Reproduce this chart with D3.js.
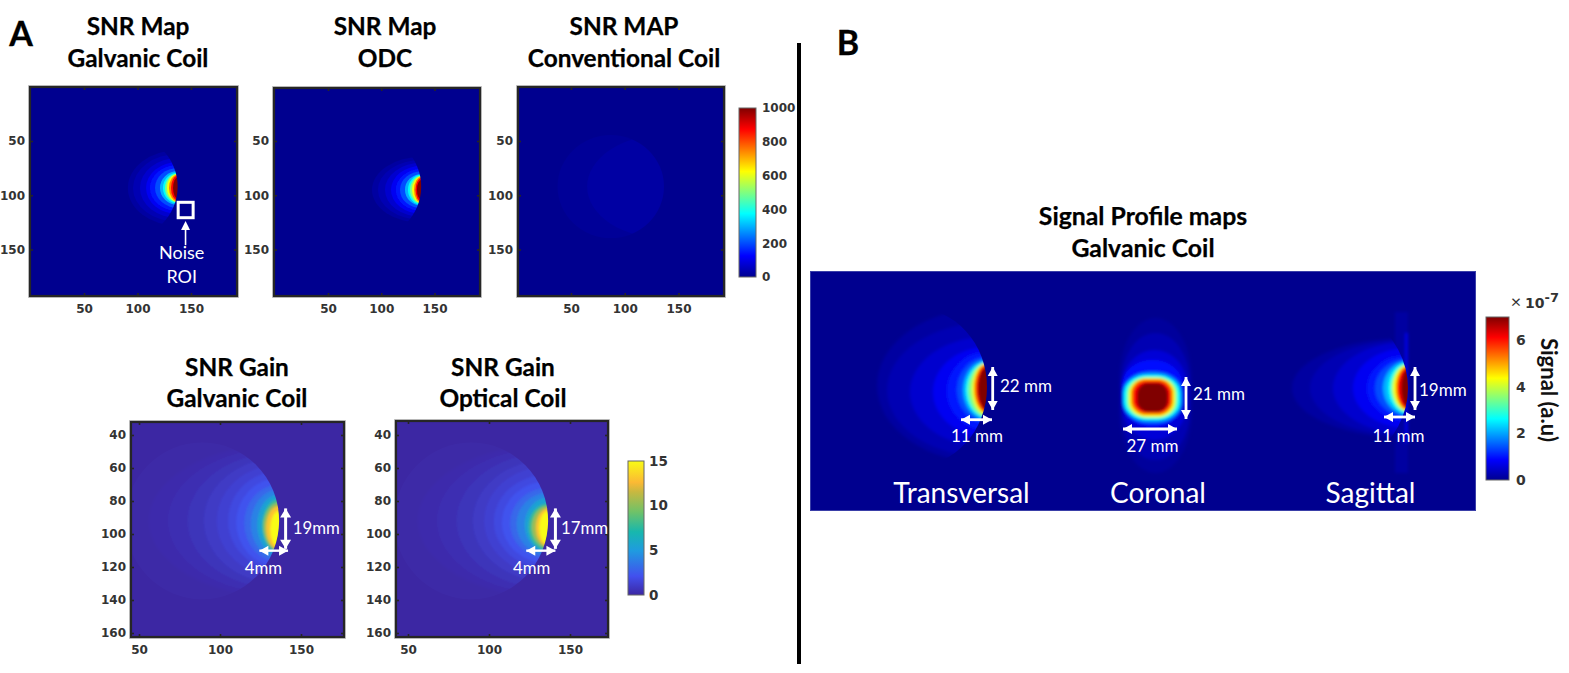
<!DOCTYPE html>
<html><head><meta charset="utf-8">
<script src="https://d3js.org/d3.v7.min.js"></script>
<style>
html,body{margin:0;padding:0;background:#fff}
svg{display:block}
text{font-family:Lato,"Open Sans",sans-serif}
.tick text{font-family:"DejaVu Sans",sans-serif;font-weight:700;fill:#333}
</style></head><body>
<svg id="c" width="1569" height="673"></svg>
<script>
/* ---------- values ---------- */
const panelLetters = ["A","B"];
const snrTicks = [50,100,150];
const gainXTicks = [50,100,150];
const gainYTicks = [40,60,80,100,120,140,160];
const snrBarTicks = [0,200,400,600,800,1000];
const gainBarTicks = [0,5,10,15];
const signalBarTicks = [0,2,4,6];

/* colormap anchor stops */
const jetStops = [0,0.125,0.375,0.625,0.875,1];
const jetColors = ["#00008f","#0000ff","#00ffff","#ffff00","#ff0000","#800000"];
const gainStops = [0,0.14,0.33,0.47,0.62,0.77,0.84,1];
const gainColors = ["#3c27a3","#4250ee","#1f9be0","#17b7ae","#6fc268","#c8b840","#fbb934","#f9fb15"];

/* iso-level extents of the hot spot: level, leftmost x, top y, bottom y */
const snrLevels = [0.02,0.04,0.07,0.11,0.15,0.2,0.3,0.38,0.5,0.62,0.75,0.88,1];
const galvanicLeft = [91,95.8,102.3,108,111.7,116.4,121,123.8,125.7,127.6,129.4,131.3,133.2];
const galvanicTop = [58.3,62,65.7,69.3,72.1,74.9,77.6,79,79.9,80.4,80.9,81.8,83.2];
const galvanicBottom = [128.3,124.6,120.9,117.3,114.5,111.7,109,107.6,106.7,106.2,105.7,104.8,103.4];
const odcLeft = [91.3,96.9,103.5,109.1,113.8,117.6,122.3,125.1,127,128.9,130.8,132.2,133.5];
const odcTop = [64.6,67.4,70.1,72.9,75.6,78,80.3,81.2,82.1,82.6,83,84,85.8];
const odcBottom = [125.4,122.6,119.9,117.1,114.4,112,109.7,108.8,107.9,107.4,107,106,104.2];
const conventionalLevels = [0.01,0.022];
const conventionalLeft = [20,65];
const conventionalTop = [10,44];
const conventionalBottom = [174,140];

const gainLevels = [0.1,0.25,0.42,0.65,0.95,1.3,1.7,2.2,3,4,5.5,8,10.5,13,15];
const gainGalvLeft = [30,56,68,80,90,98,105,110,115,119,123,126,127,128.5,131];
const gainGalvTop = [20,46,48,51,54,58,62,66,70,73,76,79,81,83,86];
const gainGalvBottom = [164,138,136,133,130,126,122,120,117,115,113,111,110,109.5,108];
const gainOptLeft = [30,56,68,80,90,97,103,108,113,117,122,124.5,126.5,129,131];
const gainOptTop = [20,46,48,51,55,59,64,68,72,75,78,81.5,83,84.5,86];
const gainOptBottom = [164,138,136,133,129,125,121,118,115,113,111,110,108.5,107.5,106.5];

const profileLevels = [0.02,0.04,0.07,0.11,0.15,0.2,0.3,0.38,0.5,0.62,0.75,0.88,1];
const transLeft = [67,77,100,123,137,147,153,156,158,162,164,166,168];
const transTop = [37,52,66,76,81,86,89,91,92,92,93,94,96];
const transBottom = [192,186,176,166,159,152,149,147,146,144,142,141,139];
const sagLeft = [482,500,523,543,557,565,573,578,581,583,586,587,591];
const sagTop = [67,69,71,77,84,88,90,91.5,93,94,95,96,98];
const sagBottom = [167,165,163,157,150,146,144,142.5,141,140,139,138,136];
const sagStripLevels = [0.02,0.09];
const sagStripLeft = [585,595];
const sagStripRight = [598,598];
const sagStripTop = [41,62];
const sagStripBottom = [202,172];
const corLevels = [0.015,0.04,0.08,0.14,0.25,0.38,0.5,0.62,0.75,0.88,1];
const corLeft = [309,311,312,312,313,314,317,319,321,323,327];
const corRight = [382,380,377,373,372,370,367,365,363,361,358];
const corTop = [47,62,79,89,101,104,106,107,108,110,112];
const corBottom = [202,189,169,156,152,149,147,146,144,142,141];
const corRound = [0.5,0.5,0.5,0.48,0.44,0.42,0.4,0.38,0.36,0.36,0.36];

const titles = [
 ["SNR Map","Galvanic Coil"],["SNR Map","ODC"],["SNR MAP","Conventional Coil"],
 ["SNR Gain","Galvanic Coil"],["SNR Gain","Optical Coil"],["Signal Profile maps","Galvanic Coil"]];
const sliceNames = ["Transversal","Coronal","Sagittal"];

/* ---------- layout ---------- */
const svg = d3.select("#c");
const defs = svg.append("defs");
const jet = d3.scaleLinear().domain(jetStops).range(jetColors).clamp(true);
const parula = d3.scaleLinear().domain(gainStops).range(gainColors).clamp(true);

[["b1",0.7],["b2",1.2],["b3",1.4]].forEach(([id,s])=>{
  defs.append("filter").attr("id",id).attr("x","-30%").attr("y","-30%").attr("width","160%").attr("height","160%")
    .append("feGaussianBlur").attr("stdDeviation",s);
});

function gradient(id,stops,colors){
  const g = defs.append("linearGradient").attr("id",id).attr("x1",0).attr("y1",1).attr("x2",0).attr("y2",0);
  stops.forEach((s,i)=>g.append("stop").attr("offset",s).attr("stop-color",colors[i]));
}
gradient("gJet",jetStops,jetColors);
gradient("gPar",gainStops,gainColors);

const frames = [
 {x:[30,237],y:[87,296],xd:[50,150],xr:[84,191],yd:[50,150],yr:[141,249.5],bg:jet(0)},
 {x:[274,480],y:[88,296],xd:[50,150],xr:[328,434.5],yd:[50,150],yr:[141,249.5],bg:jet(0)},
 {x:[518,724],y:[87,296],xd:[50,150],xr:[571,678.5],yd:[50,150],yr:[141,249.5],bg:jet(0)},
 {x:[131,344],y:[422,637],xd:[50,150],xr:[139,301],yd:[40,160],yr:[435,633],bg:parula(0)},
 {x:[396,608],y:[421,637],xd:[50,150],xr:[408,570],yd:[40,160],yr:[435,633],bg:parula(0)}
];
frames.forEach((f,i)=>{
  f.sx = d3.scaleLinear().domain(f.xd).range(f.xr);
  f.sy = d3.scaleLinear().domain(f.yd).range(f.yr);
  defs.append("clipPath").attr("id","fr"+i).append("rect")
    .attr("x",f.x[0]).attr("y",f.y[0]).attr("width",f.x[1]-f.x[0]).attr("height",f.y[1]-f.y[0]);
  f.i=i;
});

function drawFrame(f){
  const g = svg.append("g").attr("clip-path",`url(#fr${f.i})`);
  g.append("rect").attr("x",f.x[0]).attr("y",f.y[0]).attr("width",f.x[1]-f.x[0]).attr("height",f.y[1]-f.y[0]).attr("fill",f.bg);
  return g;
}
function axes(f,xt,yt){
  const sx=f.sx.copy().domain([f.sx.invert(f.x[0]),f.sx.invert(f.x[1])]).range(f.x);
  const sy=f.sy.copy().domain([f.sy.invert(f.y[0]),f.sy.invert(f.y[1])]).range(f.y);
  const mk=(ax,tx,ty,lab)=>{
    const a=svg.append("g").attr("transform",`translate(${tx},${ty})`).call(ax);
    a.selectAll(".domain").remove();
    a.selectAll("line").attr("stroke","#262626").attr("stroke-width",1.6);
    a.selectAll("text").attr("font-size",12);
    if(!lab) a.selectAll("text").remove();
    return a;
  };
  mk(d3.axisBottom(sx).tickValues(xt).tickSize(-3).tickPadding(8),0,f.y[1],true);
  mk(d3.axisTop(sx).tickValues(xt).tickSize(-3),0,f.y[0],false);
  mk(d3.axisLeft(sy).tickValues(yt).tickSize(-3).tickPadding(5),f.x[0],0,true);
  mk(d3.axisRight(sy).tickValues(yt).tickSize(-3),f.x[1],0,false);
  svg.append("rect").attr("x",f.x[0]-1.5).attr("y",f.y[0]-1.5).attr("width",f.x[1]-f.x[0]+3).attr("height",f.y[1]-f.y[0]+3).attr("fill","none").attr("stroke","#c8c8c8").attr("stroke-width",1);
  svg.append("rect").attr("x",f.x[0]).attr("y",f.y[0]).attr("width",f.x[1]-f.x[0]).attr("height",f.y[1]-f.y[0]).attr("fill","none").attr("stroke","#262626").attr("stroke-width",2.2);
}

/* one iso-level ellipse stack clipped to the head outline */
function stack(parent,id,sx,sy,clip,color,levels,left,top,bottom,filt,edge){
  const cp=defs.append("clipPath").attr("id",id);
  cp.append("ellipse").attr("cx",sx(clip[0])).attr("cy",sy(clip[1]))
    .attr("rx",Math.abs(sx(clip[0]+clip[2])-sx(clip[0]))).attr("ry",Math.abs(sy(clip[1]+clip[3])-sy(clip[1])));
  const g=parent.append("g").attr("clip-path",`url(#${id})`).append("g").attr("filter",`url(#${filt})`);
  g.selectAll("ellipse").data(levels).join("ellipse")
    .attr("cx",sx(edge)).attr("cy",(d,i)=>(sy(top[i])+sy(bottom[i]))/2)
    .attr("rx",(d,i)=>sx(edge)-sx(left[i])).attr("ry",(d,i)=>(sy(bottom[i])-sy(top[i]))/2)
    .attr("fill",d=>color(d));
}

const f0=frames[0],f1=frames[1],f2=frames[2],f3=frames[3],f4=frames[4];
const g0=drawFrame(f0),g1=drawFrame(f1),g2=drawFrame(f2),g3=drawFrame(f3),g4=drawFrame(f4);
const headSNR=[89,92,48.5,48];
stack(g0,"c0",f0.sx,f0.sy,headSNR,jet,snrLevels,galvanicLeft,galvanicTop,galvanicBottom,"b1",138);
stack(g1,"c1",f1.sx,f1.sy,headSNR,jet,snrLevels,odcLeft,odcTop,odcBottom,"b1",138);
stack(g2,"c2",f2.sx,f2.sy,[87,92,49.5,47.5],jet,conventionalLevels,conventionalLeft,conventionalTop,conventionalBottom,"b1",138);
const gainNorm=v=>parula(v/15);
const headGain=[89,92,47.5,47.5];
stack(g3,"c3",f3.sx,f3.sy,headGain,gainNorm,gainLevels,gainGalvLeft,gainGalvTop,gainGalvBottom,"b2",136.5);
stack(g4,"c4",f4.sx,f4.sy,headGain,gainNorm,gainLevels,gainOptLeft,gainOptTop,gainOptBottom,"b2",136.5);
axes(f0,snrTicks,snrTicks);axes(f1,snrTicks,snrTicks);axes(f2,snrTicks,snrTicks);
axes(f3,gainXTicks,gainYTicks);axes(f4,gainXTicks,gainYTicks);

/* panel B map: scales in map units */
const xB=d3.scaleLinear().domain([0,666]).range([810,1476]);
const yB=d3.scaleLinear().domain([0,240]).range([271,511]);
const gB=svg.append("g");
gB.append("rect").attr("x",xB(0)).attr("y",yB(0)).attr("width",xB(666)-xB(0)).attr("height",yB(240)-yB(0)).attr("fill",jet(0));
gB.append("rect").attr("x",xB(0)+.5).attr("y",yB(0)+.5).attr("width",xB(666)-xB(0)-1).attr("height",yB(240)-yB(0)-1).attr("fill","none").attr("stroke","#3a3fa8").attr("stroke-width",1);
stack(gB,"c5",xB,yB,[105,116,72,79],jet,profileLevels,transLeft,transTop,transBottom,"b3",177);
gB.append("g").attr("filter","url(#b3)").selectAll("rect").data(sagStripLevels).join("rect")
  .attr("x",(d,i)=>xB(sagStripLeft[i])).attr("width",(d,i)=>xB(sagStripRight[i])-xB(sagStripLeft[i]))
  .attr("y",(d,i)=>yB(sagStripTop[i])).attr("height",(d,i)=>yB(sagStripBottom[i])-yB(sagStripTop[i]))
  .attr("fill",d=>jet(d));
stack(gB,"c6",xB,yB,[470,117,128,100],jet,profileLevels,sagLeft,sagTop,sagBottom,"b3",598);
const gC=gB.append("g").attr("filter","url(#b3)");
gC.selectAll("rect").data(corLevels).join("rect")
  .attr("x",(d,i)=>xB(corLeft[i])).attr("width",(d,i)=>xB(corRight[i])-xB(corLeft[i]))
  .attr("y",(d,i)=>yB(corTop[i])).attr("height",(d,i)=>yB(corBottom[i])-yB(corTop[i]))
  .attr("rx",(d,i)=>(xB(corRight[i])-xB(corLeft[i]))*corRound[i]).attr("ry",(d,i)=>(yB(corBottom[i])-yB(corTop[i]))*0.4)
  .attr("fill",d=>jet(d));

/* colour bars */
function colorbar(x0,x1,y0,y1,grad,dom,ticks,fs,pad){
  const s=d3.scaleLinear().domain(dom).range([y1,y0]);
  svg.append("rect").attr("x",x0).attr("y",y0).attr("width",x1-x0).attr("height",y1-y0).attr("fill",`url(#${grad})`).attr("stroke","#666").attr("stroke-width",1);
  const a=svg.append("g").attr("transform",`translate(${x1},0)`).call(d3.axisRight(s).tickValues(ticks).tickSize(0).tickPadding(pad).tickFormat(d3.format("d")));
  a.select(".domain").remove();
  a.selectAll("text").attr("font-size",fs);
}
colorbar(739,756,108,277,"gJet",[0,1000],snrBarTicks,12,6);
colorbar(628,644,461,595,"gPar",[0,15],gainBarTicks,13.5,5);
colorbar(1486,1509,317,480,"gJet",[0,7],signalBarTicks,14,7);

/* annotation helpers */
function arrow(x1,y1,x2,y2,hw,hl,sw){
  const a=Math.atan2(y2-y1,x2-x1), c=Math.cos(a), s=Math.sin(a);
  const head=(tx,ty,d)=>{
    const bx=tx-d*c*hl,by=ty-d*s*hl;
    return d3.line()([[tx,ty],[bx-s*hw,by+c*hw],[bx+s*hw,by-c*hw]])+"Z";
  };
  const g=svg.append("g");
  g.append("line").attr("x1",x1).attr("y1",y1).attr("x2",x2).attr("y2",y2).attr("stroke","#fff").attr("stroke-width",sw);
  g.append("path").attr("d",head(x2,y2,1)+head(x1,y1,-1)).attr("fill","#fff");
}
function label(str,x,y,size,anchor,weight,fill){
  return svg.append("text").attr("x",x).attr("y",y).attr("font-size",size).attr("text-anchor",anchor||"middle")
    .attr("font-weight",weight||400).attr("fill",fill||"#fff").text(str);
}

/* titles */
const titleCentres=[138,385,624,237,503,1143];
const titleBase=[[35,67],[35,67],[35,67],[376,407],[376,407],[225,257]];
const titleSize=[24.4,24.4,24.4,24.4,24.4,24.8];
titles.forEach((t,i)=>{
  [0,1].forEach(k=>label(t[k],titleCentres[i],titleBase[i][k],titleSize[i],"middle",700,"#000").attr("stroke","#000").attr("stroke-width",0.25));
});
label(panelLetters[0],21,46,34,"middle",700,"#000").attr("stroke","#000").attr("stroke-width",0.3);
label(panelLetters[1],848,55,34,"middle",700,"#000").attr("stroke","#000").attr("stroke-width",0.3);

/* divider */
svg.append("rect").attr("x",797).attr("y",43).attr("width",4).attr("height",621).attr("fill","#000");

/* noise ROI */
const rx=f0.sx,ry=f0.sy;
svg.append("rect").attr("x",rx(138)).attr("y",ry(106.5)).attr("width",rx(152)-rx(138)).attr("height",ry(120.7)-ry(106.5)).attr("fill","none").attr("stroke","#fff").attr("stroke-width",3);
svg.append("line").attr("x1",rx(144.9)).attr("x2",rx(144.9)).attr("y1",ry(131)).attr("y2",ry(146)).attr("stroke","#fff").attr("stroke-width",1.6);
svg.append("path").attr("d",d3.line()([[rx(144.9),ry(123.7)],[rx(140.7),ry(132)],[rx(149.1),ry(132)]])+"Z").attr("fill","#fff");
label("Noise",rx(141.3),ry(159),18);
label("ROI",rx(141.3),ry(181),18);

/* gain annotations */
[[f3,"19mm"],[f4,"17mm"]].forEach(([f,txt],k)=>{
  const vx=k?f.sx(141):f.sx(140.5), hy=f.sy(109.8);
  arrow(vx,f.sy(84.5),vx,f.sy(109),5.5,9,3);
  const h0=k?f.sx(123):f.sx(124.3), h1=k?f.sx(141):f.sx(142);
  arrow(h0,hy+.5,h1,hy+.5,5,9,2.4);
  label(txt,k?f.sx(144.5):f.sx(144.9),f.sy(100),16.8,"start");
  label("4mm",k?f.sx(126.3):f.sx(126.8),f.sy(124),16.8);
});

/* profile annotations */
const bArrows=[[182.7,96,182.7,139],[151,148.7,182,148.7],[376,106,376,148],[313,158,367,158],[605,96,605,139],[574,146,605,146]];
bArrows.forEach(a=>arrow(xB(a[0]),yB(a[1]),xB(a[2]),yB(a[3]),5,9,2.8));
const bText=[["22 mm",190,121,"start"],["11 mm",167,170.7,"middle"],["21 mm",383,129,"start"],["27 mm",342.5,181,"middle"],["19mm",609,125,"start"],["11 mm",588.5,171,"middle"]];
bText.forEach(t=>label(t[0],xB(t[1]),yB(t[2]),17,t[3]));
[[151.5],[348],[560.5]].forEach((c,i)=>label(sliceNames[i],xB(c[0]),yB(232),28));

/* signal bar caption */
label("×",1516,308,18,"middle",400,"#333");
const exp=svg.append("text").attr("x",1525).attr("y",308).attr("font-size",14).attr("font-weight",700).attr("fill","#333").style("font-family","DejaVu Sans");
exp.append("tspan").text("10");
exp.append("tspan").attr("dy",-6).attr("font-size",13).text("-7");
svg.append("text").attr("transform","translate(1541,390) rotate(90)").attr("text-anchor","middle").attr("font-size",22).attr("font-weight",700).attr("fill","#111").text("Signal (a.u)");
</script>
</body></html>
